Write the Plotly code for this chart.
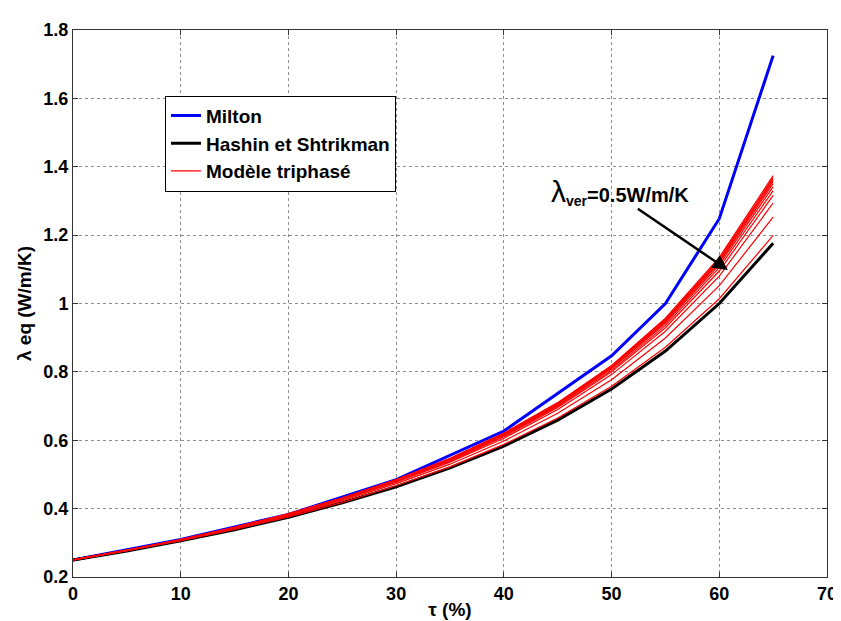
import plotly.graph_objects as go

tau = [0, 5, 10, 15, 20, 25, 30, 35, 40, 45, 50, 55, 60, 65]

tau_milton = [0, 10, 20, 30, 40, 50, 55, 60, 65]
milton = [0.25, 0.31, 0.383, 0.485, 0.627, 0.847, 1.0, 1.248, 1.725]

hashin = [0.25, 0.276, 0.306, 0.338, 0.375, 0.417, 0.464, 0.519, 0.583, 0.659, 0.750, 0.861, 1.000, 1.176]

red1 = [0.25, 0.278, 0.310, 0.345, 0.385, 0.431, 0.485, 0.547, 0.621, 0.710, 0.819, 0.957, 1.135, 1.374]
red2 = [0.25, 0.278, 0.309, 0.345, 0.385, 0.431, 0.484, 0.546, 0.620, 0.709, 0.817, 0.954, 1.130, 1.368]
red3 = [0.25, 0.278, 0.309, 0.345, 0.385, 0.431, 0.484, 0.546, 0.619, 0.707, 0.816, 0.952, 1.127, 1.363]
red4 = [0.25, 0.278, 0.309, 0.345, 0.384, 0.430, 0.483, 0.545, 0.618, 0.706, 0.814, 0.949, 1.123, 1.357]
red5 = [0.25, 0.278, 0.309, 0.344, 0.384, 0.430, 0.482, 0.544, 0.617, 0.704, 0.812, 0.946, 1.119, 1.351]
red6 = [0.25, 0.278, 0.309, 0.344, 0.384, 0.429, 0.482, 0.543, 0.615, 0.702, 0.809, 0.942, 1.113, 1.342]
red7 = [0.25, 0.278, 0.309, 0.344, 0.383, 0.428, 0.480, 0.541, 0.613, 0.699, 0.804, 0.936, 1.105, 1.330]
red8 = [0.25, 0.278, 0.308, 0.343, 0.382, 0.427, 0.479, 0.539, 0.610, 0.696, 0.800, 0.929, 1.095, 1.316]
red9 = [0.25, 0.277, 0.308, 0.342, 0.381, 0.426, 0.477, 0.536, 0.606, 0.690, 0.792, 0.919, 1.080, 1.294]
red10 = [0.25, 0.277, 0.307, 0.341, 0.379, 0.423, 0.473, 0.530, 0.598, 0.679, 0.777, 0.899, 1.052, 1.253]
red11 = [0.25, 0.277, 0.306, 0.339, 0.376, 0.418, 0.467, 0.522, 0.588, 0.665, 0.758, 0.872, 1.014, 1.199]
red_series = [red1, red2, red3, red4, red5, red6, red7, red8, red9, red10, red11]

x_ticks = [0, 10, 20, 30, 40, 50, 60, 70]
y_ticks = [0.2, 0.4, 0.6, 0.8, 1.0, 1.2, 1.4, 1.6, 1.8]
y_tick_labels = ["0.2", "0.4", "0.6", "0.8", "1", "1.2", "1.4", "1.6", "1.8"]

FONT = "Liberation Sans, Arial, sans-serif"

fig = go.Figure()

fig.add_trace(go.Scatter(x=tau_milton, y=milton, mode="lines", name="<b>Milton</b>",
                         line=dict(color="#0000ff", width=3)))
fig.add_trace(go.Scatter(x=tau, y=hashin, mode="lines", name="<b>Hashin et Shtrikman</b>",
                         line=dict(color="#000000", width=3)))
for i, r in enumerate(red_series):
    fig.add_trace(go.Scatter(x=tau, y=r, mode="lines", name="<b>Modèle triphasé</b>",
                             showlegend=(i == 0),
                             line=dict(color="#ff0000", width=1.2)))

axis_common = dict(
    showline=True, linecolor="#333333", linewidth=1, mirror="ticks",
    ticks="inside", ticklen=5, tickcolor="#333333",
    showgrid=True, gridcolor="#8c8c8c", griddash="dot", gridwidth=1,
    zeroline=False,
    tickfont=dict(family=FONT, size=18, color="#000000", weight="bold"),
)

fig.update_layout(
    width=841, height=621,
    margin=dict(l=65, r=13, t=16, b=49),
    paper_bgcolor="white", plot_bgcolor="white",
    font=dict(family=FONT, color="#000000"),
    xaxis=dict(range=[0, 70], tickvals=x_ticks, ticktext=[str(v) for v in x_ticks],
               title=dict(text="<b>τ (%)</b>", font=dict(family=FONT, size=19), standoff=0),
               **axis_common),
    yaxis=dict(range=[0.2, 1.8], tickvals=y_ticks, ticktext=y_tick_labels,
               title=dict(text="<b>λ eq (W/m/K)</b>", font=dict(family=FONT, size=19), standoff=6),
               **axis_common),
    legend=dict(x=0.122, y=0.88, xanchor="left", yanchor="top",
                bgcolor="white", bordercolor="#000000", borderwidth=1,
                font=dict(family=FONT, size=19, color="#000000"),
                tracegroupgap=0, itemwidth=30),
    showlegend=True,
)

# arrow pointing to the lambda_ver = 0.5 W/m/K curve
arrow_tip = (60.8, 1.098)
arrow_tail = (52.3, 1.28)
fig.add_annotation(x=arrow_tip[0], y=arrow_tip[1], ax=arrow_tail[0], ay=arrow_tail[1],
                   xref="x", yref="y", axref="x", ayref="y",
                   text="", showarrow=True, arrowhead=2, arrowsize=1.2,
                   arrowwidth=2.5, arrowcolor="#000000")

label_pos = (44.2, 1.325)
fig.add_annotation(x=label_pos[0], y=label_pos[1], xref="x", yref="y",
                   xanchor="left", yanchor="middle", showarrow=False,
                   text="<span style='font-size:30px;font-weight:normal'>λ</span><b><sub>ver</sub>=0.5W/m/K</b>",
                   font=dict(family=FONT, size=20, color="#000000"))

fig.write_html("out.html")
